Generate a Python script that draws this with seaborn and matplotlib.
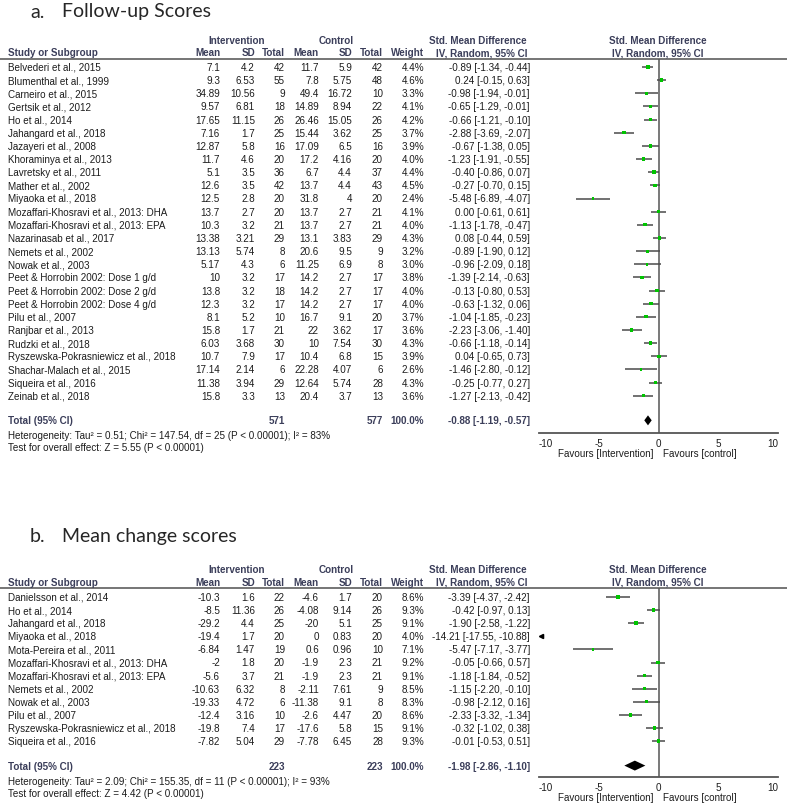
import numpy as np
import pandas as pd
import matplotlib
matplotlib.use("Agg")
import matplotlib.pyplot as plt
import seaborn as sns

sns.set_style("white")
plt.rcParams["font.family"] = ["Liberation Sans", "DejaVu Sans"]

# ---- panel a: follow-up scores ----
studies_a = [
    "Belvederi et al., 2015", "Blumenthal et al., 1999", "Carneiro et al., 2015",
    "Gertsik et al., 2012", "Ho et al., 2014", "Jahangard et al., 2018",
    "Jazayeri et al., 2008", "Khoraminya et al., 2013", "Lavretsky et al., 2011",
    "Mather et al., 2002", "Miyaoka et al., 2018", "Mozaffari-Khosravi et al., 2013: DHA",
    "Mozaffari-Khosravi et al., 2013: EPA", "Nazarinasab et al., 2017", "Nemets et al., 2002",
    "Nowak et al., 2003", "Peet & Horrobin 2002: Dose 1 g/d", "Peet & Horrobin 2002: Dose 2 g/d",
    "Peet & Horrobin 2002: Dose 4 g/d", "Pilu et al., 2007", "Ranjbar et al., 2013",
    "Rudzki et al., 2018", "Ryszewska-Pokrasniewicz et al., 2018", "Shachar-Malach et al., 2015",
    "Siqueira et al., 2016", "Zeinab et al., 2018",
]
int_mean_a = [7.1, 9.3, 34.89, 9.57, 17.65, 7.16, 12.87, 11.7, 5.1, 12.6, 12.5, 13.7, 10.3,
              13.38, 13.13, 5.17, 10, 13.8, 12.3, 8.1, 15.8, 6.03, 10.7, 17.14, 11.38, 15.8]
int_sd_a = [4.2, 6.53, 10.56, 6.81, 11.15, 1.7, 5.8, 4.6, 3.5, 3.5, 2.8, 2.7, 3.2,
            3.21, 5.74, 4.3, 3.2, 3.2, 3.2, 5.2, 1.7, 3.68, 7.9, 2.14, 3.94, 3.3]
int_n_a = [42, 55, 9, 18, 26, 25, 16, 20, 36, 42, 20, 20, 21, 29, 8, 6, 17, 18, 17, 10, 21, 30, 17, 6, 29, 13]
ctl_mean_a = [11.7, 7.8, 49.4, 14.89, 26.46, 15.44, 17.09, 17.2, 6.7, 13.7, 31.8, 13.7, 13.7,
              13.1, 20.6, 11.25, 14.2, 14.2, 14.2, 16.7, 22, 10, 10.4, 22.28, 12.64, 20.4]
ctl_sd_a = [5.9, 5.75, 16.72, 8.94, 15.05, 3.62, 6.5, 4.16, 4.4, 4.4, 4, 2.7, 2.7,
            3.83, 9.5, 6.9, 2.7, 2.7, 2.7, 9.1, 3.62, 7.54, 6.8, 4.07, 5.74, 3.7]
ctl_n_a = [42, 48, 10, 22, 26, 25, 16, 20, 37, 43, 20, 21, 21, 29, 9, 8, 17, 17, 17, 20, 17, 30, 15, 6, 28, 13]
weight_a = [4.4, 4.6, 3.3, 4.1, 4.2, 3.7, 3.9, 4.0, 4.4, 4.5, 2.4, 4.1, 4.0, 4.3, 3.2, 3.0,
            3.8, 4.0, 4.0, 3.7, 3.6, 4.3, 3.9, 2.6, 4.3, 3.6]
smd_a = [-0.89, 0.24, -0.98, -0.65, -0.66, -2.88, -0.67, -1.23, -0.40, -0.27, -5.48, 0.00, -1.13,
         0.08, -0.89, -0.96, -1.39, -0.13, -0.63, -1.04, -2.23, -0.66, 0.04, -1.46, -0.25, -1.27]
lo_a = [-1.34, -0.15, -1.94, -1.29, -1.21, -3.69, -1.38, -1.91, -0.86, -0.70, -6.89, -0.61, -1.78,
        -0.44, -1.90, -2.09, -2.14, -0.80, -1.32, -1.85, -3.06, -1.18, -0.65, -2.80, -0.77, -2.13]
hi_a = [-0.44, 0.63, -0.01, -0.01, -0.10, -2.07, 0.05, -0.55, 0.07, 0.15, -4.07, 0.61, -0.47,
        0.59, 0.12, 0.18, -0.63, 0.53, 0.06, -0.23, -1.40, -0.14, 0.73, -0.12, 0.27, -0.42]
total_a = [571, 577, -0.88, -1.19, -0.57]
het_a = "Heterogeneity: Tau\u00b2 = 0.51; Chi\u00b2 = 147.54, df = 25 (P < 0.00001); I\u00b2 = 83%"
test_a = "Test for overall effect: Z = 5.55 (P < 0.00001)"

# ---- panel b: mean change scores ----
studies_b = [
    "Danielsson et al., 2014", "Ho et al., 2014", "Jahangard et al., 2018", "Miyaoka et al., 2018",
    "Mota-Pereira et al., 2011", "Mozaffari-Khosravi et al., 2013: DHA",
    "Mozaffari-Khosravi et al., 2013: EPA", "Nemets et al., 2002", "Nowak et al., 2003",
    "Pilu et al., 2007", "Ryszewska-Pokrasniewicz et al., 2018", "Siqueira et al., 2016",
]
int_mean_b = [-10.3, -8.5, -29.2, -19.4, -6.84, -2, -5.6, -10.63, -19.33, -12.4, -19.8, -7.82]
int_sd_b = [1.6, 11.36, 4.4, 1.7, 1.47, 1.8, 3.7, 6.32, 4.72, 3.16, 7.4, 5.04]
int_n_b = [22, 26, 25, 20, 19, 20, 21, 8, 6, 10, 17, 29]
ctl_mean_b = [-4.6, -4.08, -20, 0, 0.6, -1.9, -1.9, -2.11, -11.38, -2.6, -17.6, -7.78]
ctl_sd_b = [1.7, 9.14, 5.1, 0.83, 0.96, 2.3, 2.3, 7.61, 9.1, 4.47, 5.8, 6.45]
ctl_n_b = [20, 26, 25, 20, 10, 21, 21, 9, 8, 20, 15, 28]
weight_b = [8.6, 9.3, 9.1, 4.0, 7.1, 9.2, 9.1, 8.5, 8.3, 8.6, 9.1, 9.3]
smd_b = [-3.39, -0.42, -1.90, -14.21, -5.47, -0.05, -1.18, -1.15, -0.98, -2.33, -0.32, -0.01]
lo_b = [-4.37, -0.97, -2.58, -17.55, -7.17, -0.66, -1.84, -2.20, -2.12, -3.32, -1.02, -0.53]
hi_b = [-2.42, 0.13, -1.22, -10.88, -3.77, 0.57, -0.52, -0.10, 0.16, -1.34, 0.38, 0.51]
total_b = [223, 223, -1.98, -2.86, -1.10]
het_b = "Heterogeneity: Tau\u00b2 = 2.09; Chi\u00b2 = 155.35, df = 11 (P < 0.00001); I\u00b2 = 93%"
test_b = "Test for overall effect: Z = 4.42 (P < 0.00001)"

W, H = 787, 804
HEAD = "#3b3e5a"
TXT = "#1c1c1c"
LINE = "#555555"
GREEN = "#00c400"
FS = 7.15

# column right edges (px)
COLS = [220, 255, 285, 319, 352, 383]
W_X = 424
CI_X = 530
AX_X0, AX_X1 = 539, 778


def fmt(v):
    return f"{v:g}"


def ci_text(est, lo, hi):
    return f"{est:.2f} [{lo:.2f}, {hi:.2f}]"


def draw_panel(fig, page, df, total, het, test, letter, title, lay):
    row0, dy = lay["row0"], lay["dy"]
    n = len(df)
    ypx = lambda r: row0 + r * dy

    # title
    page.text(30, lay["title_y"], letter, fontsize=14, family=["Lato", "DejaVu Sans"], va="center")
    page.text(62, lay["title_y"], title, fontsize=14, family=["Lato", "DejaVu Sans"], va="center")

    # headers
    hk = dict(fontsize=FS, fontweight="bold", color=HEAD, va="center")
    page.text(237, lay["h1"], "Intervention", ha="center", **hk)
    page.text(336, lay["h1"], "Control", ha="center", **hk)
    page.text(CI_X - 3, lay["h1"], "Std. Mean Difference", ha="right", **hk)
    page.text(658, lay["h1"], "Std. Mean Difference", ha="center", **hk)
    page.text(8, lay["h2"], "Study or Subgroup", ha="left", **hk)
    for x, lab in zip(COLS, ["Mean", "SD", "Total", "Mean", "SD", "Total"]):
        page.text(x, lay["h2"], lab, ha="right", **hk)
    page.text(W_X, lay["h2"], "Weight", ha="right", **hk)
    page.text(CI_X - 3, lay["h2"], "IV, Random, 95% CI", ha="right", **hk)
    page.text(658, lay["h2"], "IV, Random, 95% CI", ha="center", **hk)
    page.plot([0, W], [lay["line"], lay["line"]], color="#6a6a6a", lw=1.3)

    # rows
    tk = dict(fontsize=FS, color=TXT, va="center")
    for i, r in df.iterrows():
        y = ypx(i)
        page.text(8, y, r["study"], ha="left", **tk)
        vals = [fmt(r["im"]), fmt(r["isd"]), str(r["in"]), fmt(r["cm"]), fmt(r["csd"]), str(r["cn"])]
        for x, v in zip(COLS, vals):
            page.text(x, y, v, ha="right", **tk)
        page.text(W_X, y, f"{r['w']:.1f}%", ha="right", **tk)
        page.text(CI_X, y, ci_text(r["smd"], r["lo"], r["hi"]), ha="right", **tk)

    tot_r = n + 0.87
    ty = ypx(tot_r)
    bk = dict(fontsize=FS, fontweight="bold", color=HEAD, va="center")
    page.text(8, ty, "Total (95% CI)", ha="left", **bk)
    page.text(COLS[2], ty, str(total[0]), ha="right", **bk)
    page.text(COLS[5], ty, str(total[1]), ha="right", **bk)
    page.text(W_X, ty, "100.0%", ha="right", **bk)
    page.text(CI_X, ty, ci_text(*total[2:]), ha="right", **bk)
    page.text(8, ty + 15, het, ha="left", **tk)
    page.text(8, ty + 27, test, ha="left", **tk)

    # forest axes
    ax = fig.add_axes([AX_X0 / W, 1 - lay["axis"] / H, (AX_X1 - AX_X0) / W, (lay["axis"] - lay["line"]) / H])
    ax.set_xlim(-10, 10)
    ax.set_ylim((lay["axis"] - row0) / dy, (lay["line"] - row0) / dy)
    ax.axvline(0, color=LINE, lw=1.1, zorder=1)

    inside = df[(df["hi"] > -10) & (df["lo"] < 10)]
    outside = df[df["hi"] <= -10]
    ax.hlines(inside.index, inside["lo"].clip(-10, 10), inside["hi"].clip(-10, 10),
              color="#4a4a4a", lw=1.1, zorder=2)
    sns.scatterplot(data=inside.assign(row=inside.index), x="smd", y="row", size="w",
                    sizes=(3, 7), marker="s", color=GREEN, linewidth=0,
                    legend=False, ax=ax, zorder=3)
    if len(outside):
        ax.plot(np.full(len(outside), -9.85), outside.index, marker="<", ls="none",
                color="black", ms=3, clip_on=False)

    est, lo, hi = total[2:]
    ax.fill([lo, est, hi, est], [tot_r, tot_r - 0.38, tot_r, tot_r + 0.38], color="black", lw=0, zorder=3)

    for s in ["top", "left", "right"]:
        ax.spines[s].set_visible(False)
    ax.spines["bottom"].set_color(LINE)
    ax.spines["bottom"].set_linewidth(1.3)
    ax.set_yticks([])
    ax.set_xticks([-10, -5, 0, 5, 10])
    ax.set_xticklabels(["-10", "-5", "0", "5", "10"])
    ax.tick_params(axis="x", direction="inout", length=7, width=1.1, color=LINE,
                   labelsize=FS, labelcolor=TXT, pad=0)
    labs = ax.get_xticklabels()
    labs[0].set_ha("left")
    labs[-1].set_ha("right")
    ax.set_xlabel("")
    ax.set_ylabel("")
    ax.patch.set_alpha(0)

    page.text(653, lay["axis"] + 20.5, "Favours [Intervention]", ha="right", **tk)
    page.text(663, lay["axis"] + 20.5, "Favours [control]", ha="left", **tk)


def make_df(study, im, isd, inn, cm, csd, cn, w, smd, lo, hi):
    return pd.DataFrame({"study": study, "im": im, "isd": isd, "in": inn, "cm": cm, "csd": csd,
                         "cn": cn, "w": w, "smd": smd, "lo": lo, "hi": hi})


def main():
    fig = plt.figure(figsize=(W / 100, H / 100), dpi=100)
    page = fig.add_axes([0, 0, 1, 1])
    page.set_xlim(0, W)
    page.set_ylim(H, 0)
    page.axis("off")

    df_a = make_df(studies_a, int_mean_a, int_sd_a, int_n_a, ctl_mean_a, ctl_sd_a, ctl_n_a,
                   weight_a, smd_a, lo_a, hi_a)
    df_b = make_df(studies_b, int_mean_b, int_sd_b, int_n_b, ctl_mean_b, ctl_sd_b, ctl_n_b,
                   weight_b, smd_b, lo_b, hi_b)

    lay_a = dict(title_y=12, h1=41, h2=53.5, line=60, row0=68, dy=13.15, axis=434)
    lay_b = dict(title_y=537, h1=570, h2=583, line=589, row0=598, dy=13.1, axis=778)
    draw_panel(fig, page, df_a, total_a, het_a, test_a, "a.", "Follow-up Scores", lay_a)
    draw_panel(fig, page, df_b, total_b, het_b, test_b, "b.", "Mean change scores", lay_b)

    fig.savefig("out.png", dpi=100)
    plt.close(fig)


if __name__ == "__main__":
    main()
